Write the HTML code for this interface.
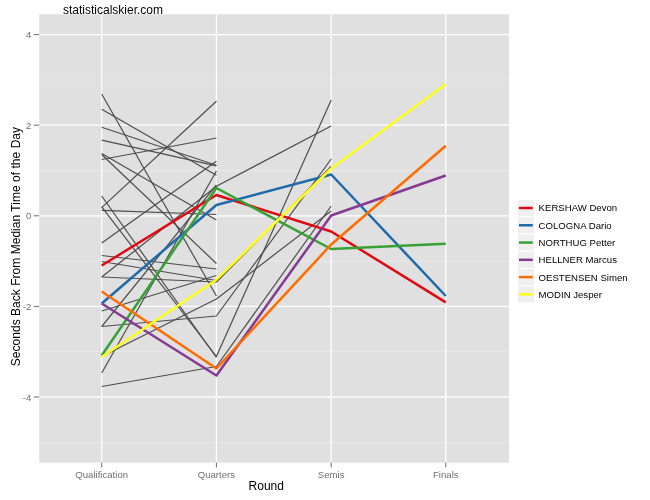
<!DOCTYPE html>
<html lang="en"><head><meta charset="utf-8"><title>statisticalskier.com</title>
<style>html,body{margin:0;padding:0;background:#fff}svg{display:block}text{font-family:"Liberation Sans",Arial,Helvetica,sans-serif}</style></head><body>
<svg width="650" height="500" viewBox="0 0 650 500">
<rect width="650" height="500" fill="#fff"/>
<rect x="39.2" y="14.2" width="469.8" height="448.4" fill="#e0e0e0"/>
<g stroke="#efefef" stroke-width="0.6">
<line x1="39.2" x2="509.0" y1="79.9" y2="79.9"/>
<line x1="39.2" x2="509.0" y1="170.5" y2="170.5"/>
<line x1="39.2" x2="509.0" y1="261.1" y2="261.1"/>
<line x1="39.2" x2="509.0" y1="351.7" y2="351.7"/>
<line x1="39.2" x2="509.0" y1="442.3" y2="442.3"/>
</g>
<g stroke="#fff" stroke-width="1.25">
<line x1="39.2" x2="509.0" y1="34.6" y2="34.6"/>
<line x1="39.2" x2="509.0" y1="125.2" y2="125.2"/>
<line x1="39.2" x2="509.0" y1="215.8" y2="215.8"/>
<line x1="39.2" x2="509.0" y1="306.4" y2="306.4"/>
<line x1="39.2" x2="509.0" y1="397.0" y2="397.0"/>
<line x1="101.7" x2="101.7" y1="14.2" y2="462.6"/>
<line x1="216.4" x2="216.4" y1="14.2" y2="462.6"/>
<line x1="331.2" x2="331.2" y1="14.2" y2="462.6"/>
<line x1="445.8" x2="445.8" y1="14.2" y2="462.6"/>
</g>
<g fill="none" stroke="#4d4d4d" stroke-width="1.2" stroke-linejoin="round">
<polyline points="101.7,94 216.4,296"/>
<polyline points="101.7,109.2 216.4,175.3"/>
<polyline points="101.7,127.3 216.4,165.3"/>
<polyline points="101.7,140.2 216.4,165.8"/>
<polyline points="101.7,159.5 216.4,138"/>
<polyline points="101.7,153.5 216.4,220"/>
<polyline points="101.7,154.5 216.4,263.5"/>
<polyline points="101.7,207.6 216.4,101.2"/>
<polyline points="101.7,243 216.4,161.3"/>
<polyline points="101.7,196 216.4,357.5"/>
<polyline points="101.7,206.8 216.4,356.5 331.2,100"/>
<polyline points="101.7,210.4 216.4,214.5"/>
<polyline points="101.7,255.5 216.4,269"/>
<polyline points="101.7,261.5 216.4,280.5"/>
<polyline points="101.7,277 216.4,186.3 331.2,126"/>
<polyline points="101.7,277 216.4,282 331.2,166.5"/>
<polyline points="101.7,311 216.4,275.5"/>
<polyline points="101.7,326.5 216.4,185"/>
<polyline points="101.7,373 216.4,171"/>
<polyline points="101.7,326.5 216.4,316 331.2,159"/>
<polyline points="101.7,356.5 216.4,299 331.2,211"/>
<polyline points="101.7,386.5 216.4,366.5 331.2,206"/>
</g>
<g fill="none" stroke-width="2.5" stroke-linejoin="round">
<polyline stroke="#df0a12" points="101.7,265.5 216.4,195 331.2,231.5 445.8,302.4"/>
<polyline stroke="#1f6aab" points="101.7,303.5 216.4,205 331.2,174.5 445.8,296"/>
<polyline stroke="#38a036" points="101.7,355.5 216.4,188 331.2,249 445.8,243.7"/>
<polyline stroke="#853a94" points="101.7,303.5 216.4,375.5 331.2,215.5 445.8,175.5"/>
<polyline stroke="#ff6c00" points="101.7,291.5 216.4,368.5 331.2,244.5 445.8,145.8"/>
<polyline stroke="#ffff1e" points="101.7,357 216.4,279.7 331.2,168.5 445.8,84.3"/>
</g>
<g stroke="#6f6f6f" stroke-width="1">
<line x1="33.8" x2="39.2" y1="34.6" y2="34.6"/>
<line x1="33.8" x2="39.2" y1="125.2" y2="125.2"/>
<line x1="33.8" x2="39.2" y1="215.8" y2="215.8"/>
<line x1="33.8" x2="39.2" y1="306.4" y2="306.4"/>
<line x1="33.8" x2="39.2" y1="397.0" y2="397.0"/>
<line x1="101.7" x2="101.7" y1="462.6" y2="467.4"/>
<line x1="216.4" x2="216.4" y1="462.6" y2="467.4"/>
<line x1="331.2" x2="331.2" y1="462.6" y2="467.4"/>
<line x1="445.8" x2="445.8" y1="462.6" y2="467.4"/>
</g>
<g fill="#707070" font-size="9.6">
<text x="31.3" y="38.1" text-anchor="end">4</text>
<text x="31.3" y="128.7" text-anchor="end">2</text>
<text x="31.3" y="219.3" text-anchor="end">0</text>
<text x="31.3" y="309.9" text-anchor="end">-2</text>
<text x="31.3" y="400.5" text-anchor="end">-4</text>
<text x="101.7" y="478.2" text-anchor="middle">Qualification</text>
<text x="216.4" y="478.2" text-anchor="middle">Quarters</text>
<text x="331.2" y="478.2" text-anchor="middle">Semis</text>
<text x="445.8" y="478.2" text-anchor="middle">Finals</text>
</g>
<text x="248.6" y="490" font-size="12" fill="#000">Round</text>
<text transform="translate(19.9,246.6) rotate(-90)" text-anchor="middle" textLength="239.3" lengthAdjust="spacing" font-size="12" fill="#000">Seconds Back From Median Time of the Day</text>
<text x="63" y="13.6" font-size="12" fill="#000">statisticalskier.com</text>
<rect x="517.3" y="199.35" width="17.28" height="17.28" fill="#efefef" stroke="#fff" stroke-width="1"/>
<line x1="519.0" x2="532.8" y1="207.99" y2="207.99" stroke="#df0a12" stroke-width="2.5"/>
<text x="538.6" y="211.39" font-size="9.6" fill="#000">KERSHAW Devon</text>
<rect x="517.3" y="216.63" width="17.28" height="17.28" fill="#efefef" stroke="#fff" stroke-width="1"/>
<line x1="519.0" x2="532.8" y1="225.27" y2="225.27" stroke="#1f6aab" stroke-width="2.5"/>
<text x="538.6" y="228.67" font-size="9.6" fill="#000">COLOGNA Dario</text>
<rect x="517.3" y="233.91" width="17.28" height="17.28" fill="#efefef" stroke="#fff" stroke-width="1"/>
<line x1="519.0" x2="532.8" y1="242.55" y2="242.55" stroke="#38a036" stroke-width="2.5"/>
<text x="538.6" y="245.95" font-size="9.6" fill="#000">NORTHUG Petter</text>
<rect x="517.3" y="251.19" width="17.28" height="17.28" fill="#efefef" stroke="#fff" stroke-width="1"/>
<line x1="519.0" x2="532.8" y1="259.83" y2="259.83" stroke="#853a94" stroke-width="2.5"/>
<text x="538.6" y="263.23" font-size="9.6" fill="#000">HELLNER Marcus</text>
<rect x="517.3" y="268.47" width="17.28" height="17.28" fill="#efefef" stroke="#fff" stroke-width="1"/>
<line x1="519.0" x2="532.8" y1="277.11" y2="277.11" stroke="#ff6c00" stroke-width="2.5"/>
<text x="538.6" y="280.51" font-size="9.6" fill="#000">OESTENSEN Simen</text>
<rect x="517.3" y="285.75" width="17.28" height="17.28" fill="#efefef" stroke="#fff" stroke-width="1"/>
<line x1="519.0" x2="532.8" y1="294.39" y2="294.39" stroke="#ffff1e" stroke-width="2.5"/>
<text x="538.6" y="297.79" font-size="9.6" fill="#000">MODIN Jesper</text>
</svg></body></html>
